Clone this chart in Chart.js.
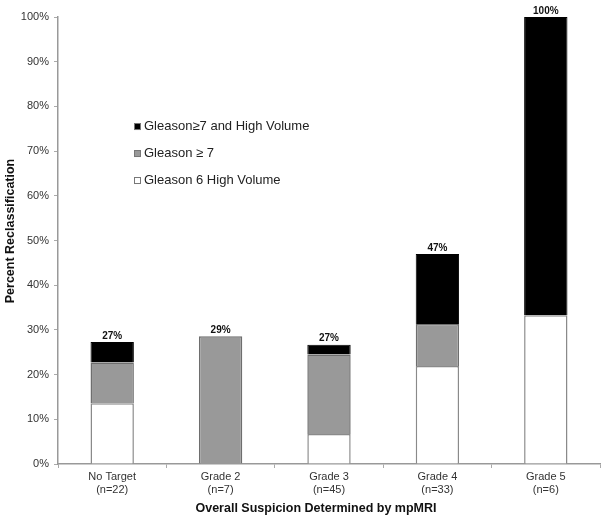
<!DOCTYPE html>
<html>
<head>
<meta charset="utf-8">
<script src="https://cdn.jsdelivr.net/npm/chart.js@4.4.1/dist/chart.umd.min.js"></script>
<style>
  html, body { margin: 0; padding: 0; background: #fff; }
  #wrap { width: 603px; height: 521px; }
</style>
</head>
<body>
<div id="wrap"><canvas id="chart" width="603" height="521"></canvas></div>
<script>
// categories (two-line labels)
const categories = [
    ['No Target', '(n=22)'],
    ['Grade 2', '(n=7)'],
    ['Grade 3', '(n=45)'],
    ['Grade 4', '(n=33)'],
    ['Grade 5', '(n=6)']
];

// stacked series, percent of patients reclassified
const gleason6HighVol = [13.6, 0, 6.7, 21.9, 33.3];
const gleason7 = [9.1, 28.6, 17.8, 9.4, 0];
const gleason7HighVol = [4.6, 0, 2.2, 15.7, 66.7];

// labels above each bar
const totalLabels = ['27%', '29%', '27%', '47%', '100%'];

const yTicks = [0, 10, 20, 30, 40, 50, 60, 70, 80, 90, 100];

const xTitle = 'Overall Suspicion Determined by mpMRI';
const yTitle = 'Percent Reclassification';

const FONT = '"Liberation Sans", Arial, sans-serif';

// totals above bars, legend inside the plot, axis titles
const overlayPlugin = {
    id: 'overlay',
    afterDatasetsDraw(chart) {
        const ctx = chart.ctx;
        const yScale = chart.scales.y;
        const meta = chart.getDatasetMeta(0);
        ctx.save();
        ctx.fillStyle = '#111';
        ctx.font = 'bold 10px ' + FONT;
        ctx.textAlign = 'center';
        ctx.textBaseline = 'bottom';
        categories.forEach((c, i) => {
            const total = gleason6HighVol[i] + gleason7[i] + gleason7HighVol[i];
            ctx.fillText(totalLabels[i], meta.data[i].x, yScale.getPixelForValue(total) - 1);
        });

        // legend, top item first
        const items = chart.data.datasets.slice().reverse();
        const lx = chart.chartArea.left + 76;
        let ly = yScale.getPixelForValue(75.5);
        ctx.font = '13px ' + FONT;
        ctx.textAlign = 'left';
        ctx.textBaseline = 'middle';
        items.forEach(ds => {
            ctx.fillStyle = ds.backgroundColor;
            ctx.fillRect(lx, ly - 3.5, 7, 7);
            ctx.strokeStyle = '#777';
            ctx.lineWidth = 1;
            ctx.strokeRect(lx + 0.5, ly - 3, 6, 6);
            ctx.fillStyle = '#222';
            ctx.fillText(ds.label, lx + 10, ly);
            ly += 27;
        });

        // axis titles
        ctx.fillStyle = '#111';
        ctx.font = 'bold 12.5px ' + FONT;
        ctx.textAlign = 'center';
        ctx.fillText(xTitle, 316, 509);
        ctx.translate(11, 231);
        ctx.rotate(-Math.PI / 2);
        ctx.fillText(yTitle, 0, 0);
        ctx.restore();
    }
};

new Chart(document.getElementById('chart'), {
    type: 'bar',
    data: {
        labels: categories,
        datasets: [
            {
                label: 'Gleason 6 High Volume',
                data: gleason6HighVol,
                backgroundColor: '#ffffff',
                borderColor: '#8a8a8a',
                borderWidth: 1.5
            },
            {
                label: 'Gleason \u2265 7',
                data: gleason7,
                backgroundColor: '#999999',
                borderColor: '#6e6e6e',
                borderWidth: 1.5
            },
            {
                label: 'Gleason\u22657 and High Volume',
                data: gleason7HighVol,
                backgroundColor: '#000000',
                borderColor: '#000000',
                borderWidth: 1
            }
        ]
    },
    options: {
        responsive: false,
        animation: false,
        layout: { padding: { top: 17, right: 3, left: 0, bottom: 0 } },
        datasets: { bar: { categoryPercentage: 0.8, barPercentage: 0.5 } },
        plugins: {
            legend: { display: false },
            tooltip: { enabled: false }
        },
        scales: {
            x: {
                stacked: true,
                afterFit(scale) { scale.height = 57; },
                grid: {
                    display: true,
                    offset: true,
                    drawOnChartArea: false,
                    tickLength: 4,
                    color: '#aaa'
                },
                border: { color: '#999', width: 1.5 },
                ticks: {
                    color: '#333',
                    font: { family: FONT, size: 11 },
                    padding: 2,
                    maxRotation: 0
                }
            },
            y: {
                stacked: true,
                min: 0,
                max: 100,
                afterBuildTicks(scale) {
                    scale.ticks = yTicks.map(v => ({ value: v }));
                },
                afterFit(scale) { scale.width = 58; },
                grid: {
                    display: true,
                    drawOnChartArea: false,
                    tickLength: 4,
                    color: '#aaa'
                },
                border: { color: '#999', width: 1.5 },
                ticks: {
                    color: '#333',
                    font: { family: FONT, size: 11 },
                    padding: 5,
                    callback: v => v + '%'
                }
            }
        }
    },
    plugins: [overlayPlugin]
});
</script>
</body>
</html>
